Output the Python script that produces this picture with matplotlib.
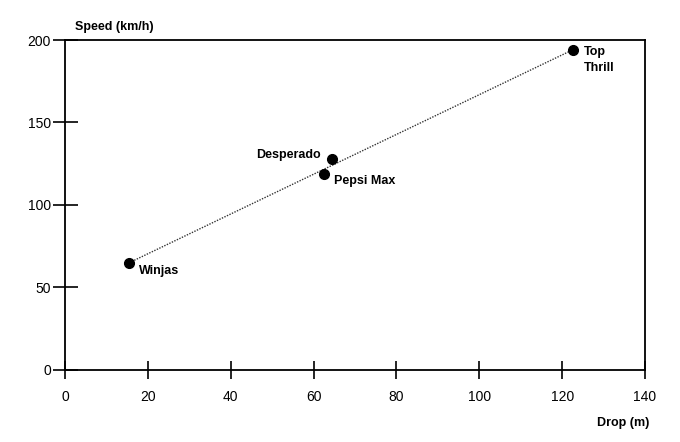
import matplotlib.pyplot as plt
import numpy as np

# coaster data
names = ['Winjas', 'Pepsi Max', 'Desperado', 'Top\nThrill']
drop = [15.5, 62.5, 64.5, 122.5]      # m
speed = [65, 119, 128, 194]           # km/h
x_ticks = [0, 20, 40, 60, 80, 100, 120, 140]
y_ticks = [0, 50, 100, 150, 200]

plt.rcParams['font.family'] = ['Liberation Sans', 'DejaVu Sans']

fig = plt.figure(figsize=(6.8, 4.42), dpi=100)
ax = fig.add_axes([0.0956, 0.163, 0.853, 0.7465])

# trend line between the first and last coaster
ax.plot([drop[0], drop[-1]], [speed[0], speed[-1]], linestyle=(0, (1, 1)),
        color='#333333', linewidth=1.0, zorder=2)
ax.plot(drop, speed, 'o', color='black', markersize=7, zorder=3)

# labels next to each dot (offsets in points)
offs = [(7, -6, 'left', 'center'), (7, -5, 'left', 'center'),
        (-8, 3, 'right', 'center'), (8, 3, 'left', 'top')]
for n, xv, yv, (dx, dy, ha, va) in zip(names, drop, speed, offs):
    ax.annotate(n, (xv, yv), xytext=(dx, dy), textcoords='offset points',
                ha=ha, va=va, fontsize=9, fontweight='bold', linespacing=1.45)

ax.set_xlim(0, 140)
ax.set_ylim(0, 200)
ax.set_xticks(x_ticks)
ax.set_yticks(y_ticks)
ax.tick_params(axis='x', direction='inout', length=13, width=1.2, labelsize=10, pad=8)
ax.tick_params(axis='y', direction='inout', length=18, width=1.2, labelsize=10, pad=1)
for s in ax.spines.values():
    s.set_linewidth(1.3)

fig.text(0.11, 0.94, 'Speed (km/h)', fontsize=9, fontweight='bold', ha='left', va='center')
fig.text(0.955, 0.043, 'Drop (m)', fontsize=9, fontweight='bold', ha='right', va='center')

fig.savefig('out.png', dpi=100)
